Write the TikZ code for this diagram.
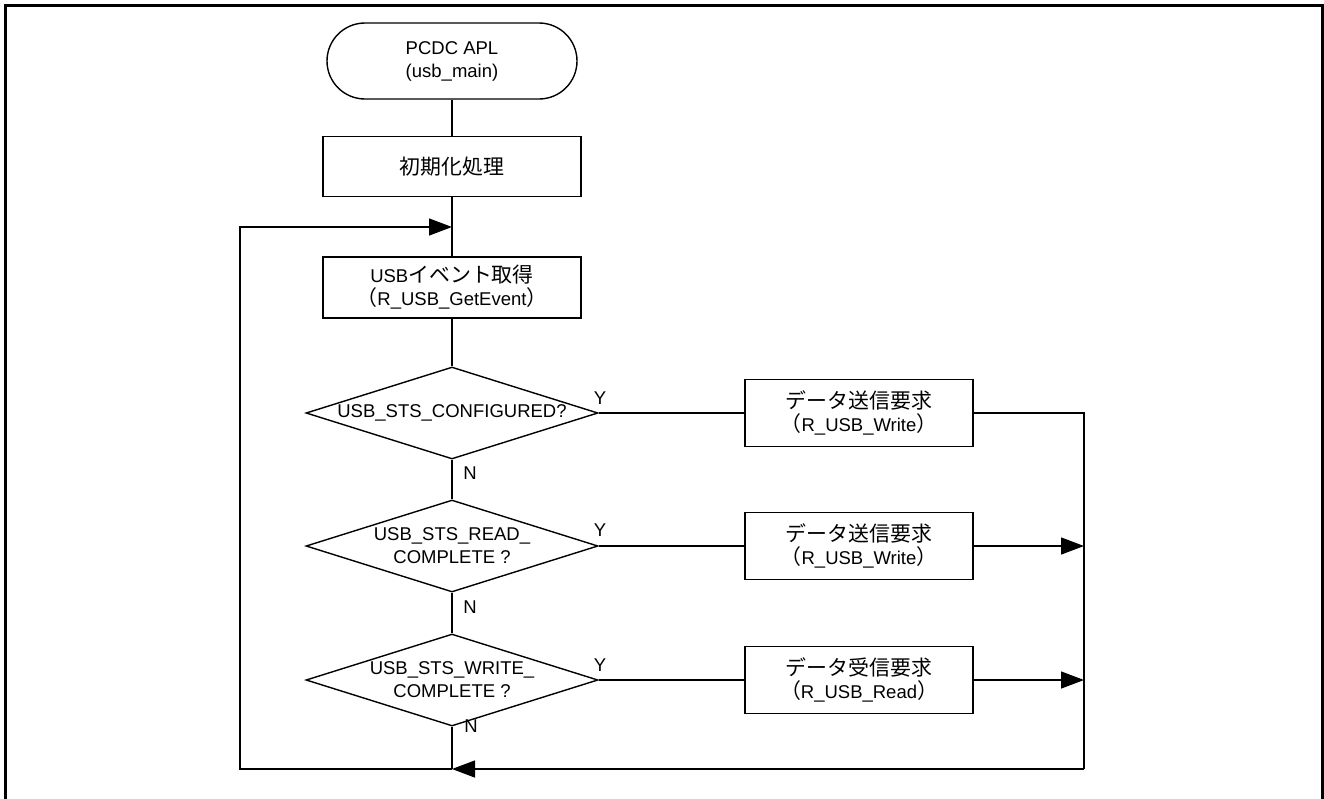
\documentclass[tikz,border=0pt]{standalone}
\usepackage{fontspec}
\setmainfont{Liberation Sans}
\newfontfamily\jp[Scale=1.13]{Noto Sans CJK JP}
\usetikzlibrary{arrows.meta,shapes.geometric}
\newcommand\myfs{\fontsize{18.5}{23}\selectfont}
\tikzset{
  ln/.style={line width=1.4pt},
  arr/.style={-{Triangle[length=23pt,width=17pt]}},
  box/.style={draw, line width=1.4pt, minimum width=258pt, minimum height=60pt, align=center, inner sep=0pt, font=\myfs},
  rbox/.style={box, minimum width=228pt, minimum height=67pt},
  term/.style={box, minimum width=250pt, minimum height=76pt, rounded corners=38pt},
  dia/.style={draw, shape=diamond, line width=1.4pt, minimum width=292pt, minimum height=92pt, inner sep=0pt},
  dlab/.style={align=center, font=\myfs, inner sep=0pt},
  lab/.style={font=\myfs, inner sep=0pt},
}
\begin{document}
\begin{tikzpicture}[x=1pt,y=-1pt]
\useasboundingbox (0,0) rectangle (1324,798);
\draw[line width=3pt] (5,800) -- (5,5) -- (1322,5) -- (1322,800);

\node[term] (start) at (452,61) {PCDC APL\\(usb\_main)};
\node[box] (init) at (452,166.5) {\jp 初期化処理};
\node[box, minimum height=61pt] (evt) at (452,287.5) {USB{\jp イベント取得}\\{\jp （}R\_USB\_GetEvent{\jp ）}};

\node[dia, label={[dlab]center:USB\_STS\_CONFIGURED?}] (d1) at (452,413) {};
\node[dia, label={[dlab]center:USB\_STS\_READ\_\\COMPLETE ?}] (d2) at (452,546) {};
\node[dia, label={[dlab]center:USB\_STS\_WRITE\_\\COMPLETE ?}] (d3) at (452,680) {};

\node[rbox] (r1) at (859,413) {\jp データ送信要求\\{\jp （}R\_USB\_Write{\jp ）}};
\node[rbox] (r2) at (859,546) {\jp データ送信要求\\{\jp （}R\_USB\_Write{\jp ）}};
\node[rbox] (r3) at (859,680) {\jp データ受信要求\\{\jp （}R\_USB\_Read{\jp ）}};

\coordinate (j1) at (452,227);
\coordinate (j2) at (452,769);
\coordinate (lt) at (240,227);
\coordinate (lb) at (240,769);
\coordinate (rt) at (1084,413);
\coordinate (rb) at (1084,769);

\draw[ln] (start) -- (init);
\draw[ln] (init) -- (evt);
\draw[ln] (evt) -- (d1);
\draw[ln] (d1) -- (d2);
\draw[ln] (d2) -- (d3);
\draw[ln] (d3.south) -- (j2);

\draw[ln] (d1.east) -- (r1.west);
\draw[ln] (d2.east) -- (r2.west);
\draw[ln] (d3.east) -- (r3.west);

\draw[ln] (r1.east) -- (rt) -- (rb);
\draw[ln,arr] (r2.east) -- (r2.east -| rt);
\draw[ln,arr] (r3.east) -- (r3.east -| rt);
\draw[ln,arr] (rb) -- (j2);
\draw[ln,arr] (j2) -- (lb) -- (lt) -- (j1);

\node[lab] (y1) at (600,398) {Y};
\node[lab] (y2) at (600,530) {Y};
\node[lab] (y3) at (600,665) {Y};
\node[lab] (n1) at (470,473) {N};
\node[lab] (n2) at (470,607) {N};
\node[lab] (n3) at (471,726) {N};
\end{tikzpicture}
\end{document}
